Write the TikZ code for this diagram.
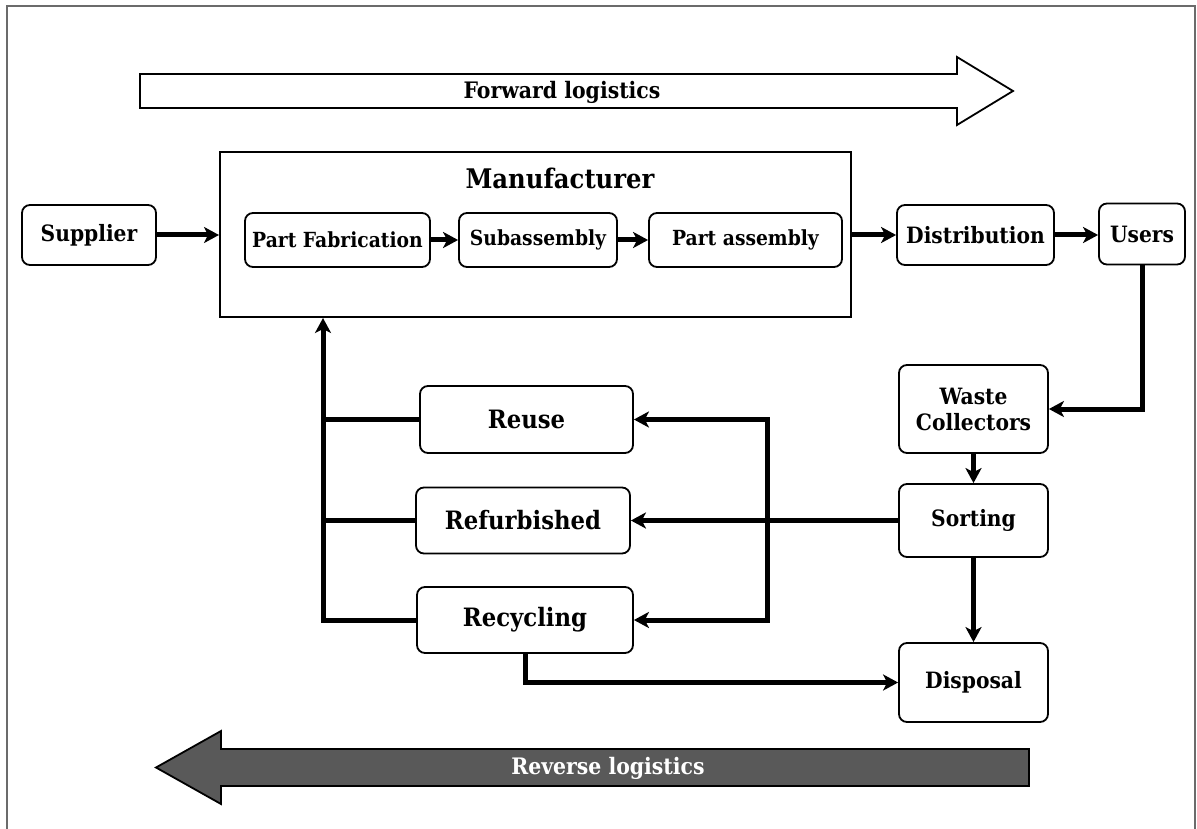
\documentclass[tikz,border=0pt]{standalone}
\usepackage{fontspec}
\setmainfont{DejaVu Serif}[FakeStretch=0.9]
\usetikzlibrary{arrows.meta}
\definecolor{framegray}{HTML}{6B6B6B}
\definecolor{revgray}{HTML}{595959}
\begin{document}
\begin{tikzpicture}[x=1pt,y=-1pt,
  box/.style={draw, line width=1.8pt, rounded corners=8pt, align=center, inner sep=0pt,
    font=\bfseries\fontsize{22.5}{26}\selectfont},
  inbox/.style={box, font=\bfseries\fontsize{20.8}{24}\selectfont},
  rbox/.style={box, font=\bfseries\fontsize{25.3}{29}\selectfont},
  conn/.style={line width=5pt, -{Stealth[length=15pt,width=16pt,inset=4pt]}},
  wire/.style={line width=5pt},
  bigarrow/.style={draw, line width=1.8pt, line join=miter},
  label/.style={font=\bfseries\fontsize{22.7}{26}\selectfont}]
\useasboundingbox (0,0) rectangle (1197,829);
% frame
\draw[framegray, line width=2.2pt] (7,829) -- (7,6) -- (1195,6) -- (1195,829);
% big arrows
\draw[bigarrow, fill=white] (140,74) -- (957,74) -- (957,57) -- (1013,91) -- (957,125) -- (957,108) -- (140,108) -- cycle;
\node[label] (fwd) at (562,92) {Forward logistics};
\draw[bigarrow, fill=revgray] (1029,749) -- (221,749) -- (221,731) -- (156,767.5) -- (221,804) -- (221,786) -- (1029,786) -- cycle;
\node[label, text=white] (rev) at (608,768) {Reverse logistics};
% manufacturer
\node[draw, line width=2pt, minimum width=631pt, minimum height=165pt, inner sep=0pt] (mfr) at (535.5,234.5) {};
\node[font=\bfseries\fontsize{27}{31}\selectfont] (mfrt) at (560,178) {Manufacturer};
\node[inbox, minimum width=185pt, minimum height=54pt] (pf) at (337.5,240) {Part Fabrication};
\node[inbox, minimum width=158pt, minimum height=54pt] (sa) at (538,240) {Subassembly};
\node[inbox, minimum width=193pt, minimum height=54pt] (pa) at (745.5,240) {Part assembly};
% other nodes
\node[box, minimum width=134pt, minimum height=60pt] (sup) at (89,235) {Supplier};
\node[box, minimum width=157pt, minimum height=60pt] (dist) at (975.5,235) {Distribution};
\node[box, minimum width=86pt, minimum height=61pt] (users) at (1142,234) {Users};
\node[box, minimum width=149pt, minimum height=88pt] (waste) at (973.5,409) {Waste\\Collectors};
\node[box, minimum width=149pt, minimum height=73pt] (sort) at (973.5,520.5) {Sorting};
\node[box, minimum width=149pt, minimum height=79pt] (disp) at (973.5,682.5) {Disposal};
\node[rbox, minimum width=213pt, minimum height=67pt] (reuse) at (526.5,419.5) {Reuse};
\node[rbox, minimum width=214pt, minimum height=66pt] (refurb) at (523,520.5) {Refurbished};
\node[rbox, minimum width=216pt, minimum height=66pt] (recyc) at (525,620) {Recycling};
\coordinate (rbus) at (767,0);
\coordinate (lbus) at (323,0);
% forward connectors
\draw[conn] (sup.east) -- (sup.east -| mfr.west);
\draw[conn] (pf.east) -- (sa.west);
\draw[conn] (sa.east) -- (pa.west);
\draw[conn] (mfr.east |- dist.west) -- (dist.west);
\draw[conn] (dist.east) -- (users.west |- dist.east);
% reverse connectors
\draw[conn, line join=miter] (users.south) |- (waste.east);
\draw[conn] (waste.south) -- (sort.north);
\draw[conn] (sort.south) -- (disp.north);
\draw[conn] (sort.west) -- (refurb.east);
\draw[wire, line join=miter, {Stealth[length=15pt,width=16pt,inset=4pt]}-{Stealth[length=15pt,width=16pt,inset=4pt]}]
  (reuse.east) -- (reuse.east -| rbus) -- (recyc.east -| rbus) -- (recyc.east);
\draw[wire] (reuse.west) -- (reuse.west -| lbus);
\draw[wire] (refurb.west) -- (refurb.west -| lbus);
\draw[conn, line join=miter] (recyc.west) -- (recyc.west -| lbus) -- (lbus |- mfr.south);
\draw[conn, line join=miter] (recyc.south) |- (disp.west);
\end{tikzpicture}
\end{document}
